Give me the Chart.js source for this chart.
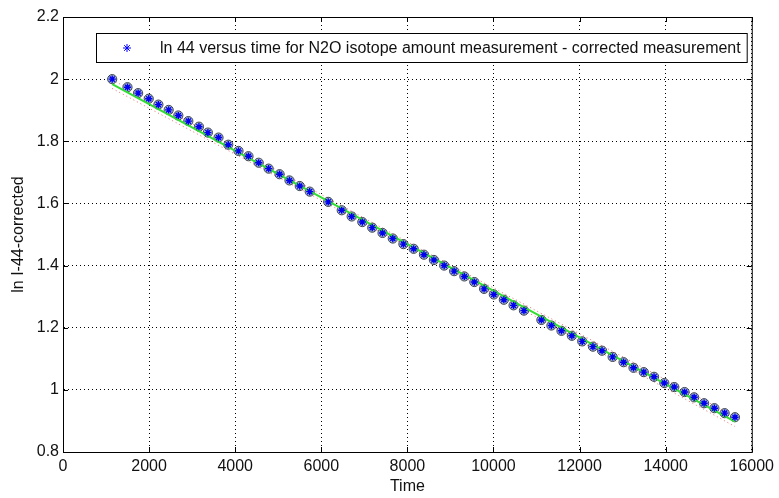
<!DOCTYPE html>
<html>
<head>
<meta charset="utf-8">
<script src="https://cdn.jsdelivr.net/npm/chart.js@4/dist/chart.umd.min.js"></script>
<style>
  html, body { margin: 0; padding: 0; background: #fff; }
  #wrap { width: 779px; height: 498px; }
</style>
</head>
<body>
<div id="wrap"><canvas id="chart" width="779" height="498"></canvas></div>
<script>
// measured points: time and ln of corrected I-44
const times = [1143, 1498, 1745, 1992, 2216, 2455, 2679, 2911, 3158, 3366,
  3613, 3839, 4077, 4308, 4546, 4777, 5031, 5261, 5500, 5731,
  6161, 6475, 6706, 6953, 7184, 7423, 7661, 7908, 8146, 8385,
  8616, 8855, 9086, 9324, 9555, 9782, 10008, 10241, 10467, 10708,
  11113, 11346, 11580, 11821, 12062, 12311, 12522, 12768, 13022, 13253,
  13492, 13730, 13969, 14200, 14439, 14662, 14893, 15132, 15370, 15610];
const lnValues = [2.000, 1.974, 1.955, 1.937, 1.918, 1.901, 1.883, 1.865, 1.847, 1.828,
  1.812, 1.789, 1.769, 1.752, 1.731, 1.712, 1.694, 1.674, 1.656, 1.638,
  1.605, 1.578, 1.558, 1.540, 1.522, 1.505, 1.487, 1.469, 1.454, 1.435,
  1.418, 1.400, 1.382, 1.365, 1.347, 1.325, 1.307, 1.290, 1.272, 1.255,
  1.225, 1.207, 1.190, 1.174, 1.156, 1.139, 1.126, 1.106, 1.089, 1.071,
  1.057, 1.042, 1.022, 1.009, 0.993, 0.976, 0.957, 0.941, 0.925, 0.912];

// fitted straight line (green) and its dotted red bounds
const fitTimes = [1143, 15610];
const fitValues = [1.984, 0.898];
const boundTimes = [1143, 8376, 15610];
const lowerBound = [1.970, 1.434, 0.882];
const upperBound = [1.998, 1.448, 0.914];

const xTicks = [0, 2000, 4000, 6000, 8000, 10000, 12000, 14000, 16000];
const yTicks = [0.8, 1.0, 1.2, 1.4, 1.6, 1.8, 2.0, 2.2];
const legendText = 'ln 44 versus time for N2O isotope amount measurement - corrected measurement';
const xTitle = 'Time';
const yTitle = 'ln I-44-corrected';

const FONT = 'Liberation Sans, Arial, sans-serif';

function pairs(xs, ys) {
  return xs.map((x, i) => ({ x: x, y: ys[i] }));
}

// box round the plot + inward tick marks on all four sides
const frameTicks = {
  id: 'frameTicks',
  afterDraw(chart) {
    const { ctx, chartArea: a, scales } = chart;
    ctx.save();
    ctx.strokeStyle = '#000';
    ctx.lineWidth = 1;
    ctx.strokeRect(a.left + 0.5, a.top + 0.5, a.right - a.left, a.bottom - a.top);
    ctx.beginPath();
    xTicks.forEach(v => {
      const px = Math.round(scales.x.getPixelForValue(v)) + 0.5;
      ctx.moveTo(px, a.bottom); ctx.lineTo(px, a.bottom - 5);
      ctx.moveTo(px, a.top); ctx.lineTo(px, a.top + 5);
    });
    yTicks.forEach(v => {
      const py = Math.round(scales.y.getPixelForValue(v)) + 0.5;
      ctx.moveTo(a.left, py); ctx.lineTo(a.left + 5, py);
      ctx.moveTo(a.right, py); ctx.lineTo(a.right - 5, py);
    });
    ctx.stroke();
    ctx.restore();
  }
};

// boxed legend inside the plot, like matlab's
const boxLegend = {
  id: 'boxLegend',
  afterDraw(chart) {
    const { ctx, chartArea: a } = chart;
    const left = a.left + 33, top = a.top + 16, h = 29;
    ctx.save();
    ctx.font = '16px ' + FONT;
    const tw = ctx.measureText(legendText).width;
    const w = 64 + tw + 6;
    ctx.fillStyle = '#fff';
    ctx.fillRect(left, top, w, h);
    ctx.strokeStyle = '#000';
    ctx.lineWidth = 1;
    ctx.strokeRect(left + 0.5, top + 0.5, w, h);
    ctx.strokeStyle = '#0000ff';
    ctx.fillStyle = '#0000ff';
    Chart.helpers.drawPoint(ctx, { pointStyle: 'star', radius: 4, borderWidth: 1.3, rotation: 0 }, left + 31, top + h / 2 + 0.5);
    ctx.fillStyle = '#111';
    ctx.textBaseline = 'middle';
    ctx.fillText(legendText, left + 64, top + h / 2 + 1);
    ctx.restore();
  }
};

const tickFont = { family: FONT, size: 16 };

new Chart(document.getElementById('chart'), {
  type: 'scatter',
  data: {
    datasets: [
      {
        label: 'stars',
        data: pairs(times, lnValues),
        pointStyle: 'star',
        pointRadius: 3.6,
        borderColor: '#0000ee',
        backgroundColor: '#0000ee',
        pointBorderWidth: 1.4,
        showLine: false,
        order: 0
      },
      {
        label: 'fit',
        data: pairs(fitTimes, fitValues),
        showLine: true,
        borderColor: '#33dd33',
        borderWidth: 2,
        pointRadius: 0,
        order: 1
      },
      {
        label: 'rings',
        data: pairs(times, lnValues),
        pointStyle: 'circle',
        pointRadius: 4.6,
        borderColor: '#3c4452',
        backgroundColor: '#a9bacb',
        pointBorderWidth: 1,
        showLine: false,
        order: 2
      },
      {
        label: 'lower',
        data: pairs(boundTimes, lowerBound),
        showLine: true,
        borderColor: 'rgba(230,70,70,0.8)',
        borderWidth: 1,
        borderDash: [1, 3],
        pointRadius: 0,
        order: 3
      },
      {
        label: 'upper',
        data: pairs(boundTimes, upperBound),
        showLine: true,
        borderColor: 'rgba(230,70,70,0.8)',
        borderWidth: 1,
        borderDash: [1, 3],
        pointRadius: 0,
        order: 3
      }
    ]
  },
  options: {
    responsive: false,
    animation: false,
    devicePixelRatio: 1,
    layout: { padding: { top: 17, right: 22, left: 0, bottom: 0 } },
    plugins: {
      legend: { display: false },
      tooltip: { enabled: false }
    },
    scales: {
      x: {
        type: 'linear',
        min: 0,
        max: 16000,
        afterBuildTicks: s => { s.ticks = xTicks.map(v => ({ value: v })); },
        afterFit: s => { s.height = 46; },
        ticks: {
          font: tickFont,
          color: '#111',
          padding: 5,
          maxRotation: 0,
          autoSkip: false,
          callback: v => String(v)
        },
        grid: { color: '#000', lineWidth: 1, drawTicks: false },
        border: { display: true, color: '#000', dash: [1, 3] },
        title: { display: true, text: xTitle, font: tickFont, color: '#111', padding: { top: 0, bottom: 2 } }
      },
      y: {
        type: 'linear',
        min: 0.8,
        max: 2.2,
        afterBuildTicks: s => { s.ticks = yTicks.map(v => ({ value: v })); },
        afterFit: s => { s.width = 63; },
        ticks: {
          font: tickFont,
          color: '#111',
          padding: 4,
          autoSkip: false,
          callback: v => String(Number(v.toFixed(1)))
        },
        grid: { color: '#000', lineWidth: 1, drawTicks: false },
        border: { display: true, color: '#000', dash: [1, 3] },
        title: { display: true, text: yTitle, font: tickFont, color: '#111', padding: { top: 9, bottom: 0 } }
      }
    }
  },
  plugins: [frameTicks, boxLegend]
});
</script>
</body>
</html>
